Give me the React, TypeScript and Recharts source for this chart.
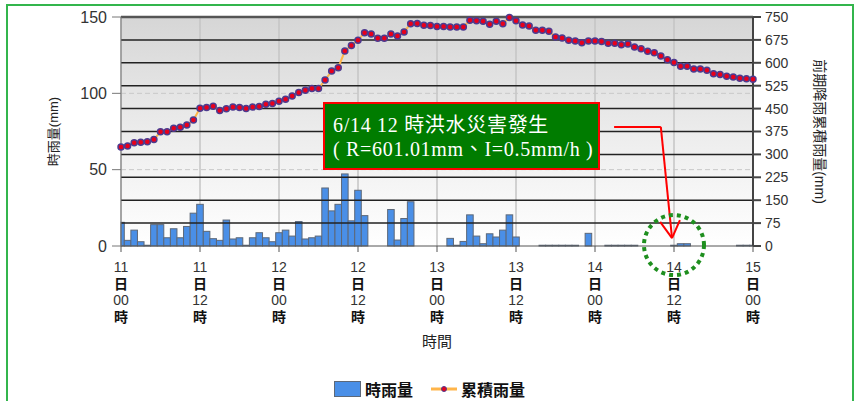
import {
  Bar,
  CartesianGrid,
  ComposedChart,
  Line,
  ReferenceDot,
  ReferenceLine,
  XAxis,
  YAxis,
} from 'recharts';

// hour index from 6/11 00:00 to 6/15 00:00
const hours = Array.from({ length: 97 }, (_, i) => i);

const hourlyRain = [
  15.5, 3.7, 10.4, 2.8, 0.5, 14, 14, 5.4, 11.3, 5.4, 12.8, 21.5, 27.3, 9.6, 4.8, 3.7,
  17, 4.6, 5.4, 0.5, 5.4, 8.7, 5.4, 2.8, 8.7, 10.4, 6.5, 16, 4.6, 5.4, 6.5, 38,
  23, 27.3, 47.2, 16.5, 36.5, 19.9, 0, 0, 0, 23.9, 3.9, 18, 29, 0, 0, 0,
  0, 0, 5, 0.5, 3, 20.4, 6.5, 1.5, 8, 5.9, 10.4, 20.4, 5.9, 0, 0, 0,
  0.5, 0.5, 0.5, 0.5, 0.5, 0.5, 0, 8.3, 0, 0, 0.5, 0.5, 0.5, 0.5, 0.5, 0,
  0, 0, 0, 0, 0.5, 1.5, 1.5, 0, 0, 0, 0, 0, 0, 0, 0.5, 0.5, 0.5,
];

const cumulativeRain = [
  324, 327.5, 338, 339.5, 341.6, 349, 374, 374, 386, 388.6, 396, 412.6, 451, 454, 457.4, 444,
  449.8, 455, 454, 450, 455, 457, 464, 467, 474, 481, 491, 503, 510, 516, 516, 543.6,
  573, 584, 638.6, 657, 673.6, 698.6, 694, 680, 680, 694, 687.8, 701, 728, 729, 723, 722,
  718.5, 718.5, 717.5, 717.5, 717.5, 739, 738, 736, 726, 736, 728, 748, 738, 724, 720.5, 707,
  707, 703, 684.5, 681, 673.5, 671, 666, 671, 671, 670, 664, 664, 659, 661.6, 651.7, 646,
  637.6, 633, 622, 610, 601.01, 588.5, 588.5, 579.7, 579.7, 576, 564, 562, 556, 553.5, 549, 548,
  546,
];

const xTicks = [0, 12, 24, 36, 48, 60, 72, 84, 96];
const tickDays = ['11', '11', '12', '12', '13', '13', '14', '14', '15'];
const tickHours = ['00', '12', '00', '12', '00', '12', '00', '12', '00'];
const leftTicks = [0, 50, 100, 150];
const rightTicks = [0, 75, 150, 225, 300, 375, 450, 525, 600, 675, 750];

const data = hours.map((t, i) => ({ t, rain: hourlyRain[i], total: cumulativeRain[i] }));

const FONT = '"Liberation Sans", "Noto Sans CJK TC", sans-serif';
const PLOT_LEFT = 121;
const PLOT_RIGHT = 753;

function HourTick({ x, y, payload }: any) {
  const idx = xTicks.indexOf(payload.value);
  return (
    <g transform={`translate(${x},${y})`} fontFamily={FONT} textAnchor="middle">
      <text y={18} fontSize={14} fill="#333">{tickDays[idx]}</text>
      <text y={35} fontSize={14} fontWeight="bold" fill="#111">日</text>
      <text y={51} fontSize={14} fill="#333">{tickHours[idx]}</text>
      <text y={68} fontSize={14} fontWeight="bold" fill="#111">時</text>
    </g>
  );
}

// bars at the first and last hour are cut at the plot edge
function ClippedBar({ x, y, width, height, fill, stroke }: any) {
  if (!height || height <= 0) return null;
  const x0 = Math.max(x, PLOT_LEFT);
  const x1 = Math.min(x + width, PLOT_RIGHT);
  if (x1 <= x0) return null;
  return (
    <rect x={x0} y={y} width={x1 - x0} height={height} fill={fill} stroke={stroke} strokeWidth={1} />
  );
}

export default function App() {
  return (
    <div
      style={{
        position: 'absolute',
        left: 0,
        top: 0,
        width: 859,
        height: 401,
        overflow: 'hidden',
        background: '#fff',
        fontFamily: FONT,
      }}
    >
      <div
        style={{
          position: 'absolute',
          left: 6,
          top: 4,
          width: 848,
          height: 440,
          boxSizing: 'border-box',
          border: '2px solid #33b54c',
        }}
      />
      <div style={{ position: 'absolute', left: 0, top: 0 }}>
        <ComposedChart
          width={859}
          height={401}
          data={data}
          margin={{ top: 17, right: 16, bottom: 0, left: 40 }}
        >
          <defs>
            <linearGradient id="plotBg" x1="0" y1="0" x2="0" y2="1">
              <stop offset="0%" stopColor="#d6d6d6" />
              <stop offset="55%" stopColor="#eeeeee" />
              <stop offset="100%" stopColor="#ffffff" />
            </linearGradient>
          </defs>
          <CartesianGrid
            yAxisId="right"
            horizontal={false}
            verticalValues={xTicks}
            fill="url(#plotBg)"
            fillOpacity={1}
            stroke="#c4c4c4"
            strokeWidth={1.5}
          />
          <XAxis
            dataKey="t"
            type="number"
            domain={[0, 96]}
            ticks={xTicks}
            interval={0}
            height={155}
            tickSize={6}
            tickMargin={2}
            stroke="#555"
            tick={<HourTick />}
            label={{
              value: '時間',
              position: 'insideTop',
              offset: 90,
              fontSize: 15,
              fill: '#222',
              fontFamily: FONT,
            }}
          />
          <YAxis
            yAxisId="left"
            domain={[0, 150]}
            ticks={leftTicks}
            width={81}
            tickSize={9}
            tickMargin={5}
            stroke="#777"
            tick={{ fontSize: 16, fill: '#333', fontFamily: FONT }}
            label={{
              value: '時雨量(mm)',
              angle: -90,
              position: 'insideLeft',
              offset: 13,
              fontSize: 13,
              fill: '#222',
              fontFamily: FONT,
              style: { textAnchor: 'middle' },
            }}
          />
          <YAxis
            yAxisId="right"
            orientation="right"
            domain={[0, 750]}
            ticks={rightTicks}
            interval={0}
            width={90}
            tickSize={8}
            tickMargin={4}
            stroke="#444"
            strokeWidth={2}
            tick={{ fontSize: 14, fill: '#333', fontFamily: FONT }}
            label={{
              value: '前期降雨累積雨量(mm)',
              angle: 90,
              position: 'insideRight',
              offset: 23,
              fontSize: 14,
              fill: '#222',
              fontFamily: FONT,
              style: { textAnchor: 'middle' },
            }}
          />
          {rightTicks.slice(1).map((v) => (
            <ReferenceLine
              key={v}
              yAxisId="right"
              y={v}
              stroke={v === 750 ? '#555' : '#222'}
              strokeWidth={v === 750 ? 2.5 : 1.5}
            />
          ))}
          <ReferenceLine yAxisId="left" y={50} stroke="#c8c8c8" strokeDasharray="5 3" />
          <ReferenceLine yAxisId="left" y={100} stroke="#c8c8c8" strokeDasharray="5 3" />
          <Bar
            yAxisId="left"
            dataKey="rain"
            name="時雨量"
            barSize={6.58}
            fill="#4a8fe7"
            stroke="#5d6878"
            shape={<ClippedBar />}
            isAnimationActive={false}
          />
          <Line
            yAxisId="right"
            dataKey="total"
            name="累積雨量"
            type="linear"
            stroke="#ffb54a"
            strokeWidth={2}
            dot={{ r: 3, fill: '#e8001c', stroke: '#4d3b8f', strokeWidth: 1.5 }}
            isAnimationActive={false}
          />
          <ReferenceLine
            yAxisId="right"
            segment={[{ x: 74.9, y: 390 }, { x: 82, y: 390 }]}
            stroke="#ff0000"
            strokeWidth={2}
          />
          <ReferenceLine
            yAxisId="right"
            segment={[{ x: 82, y: 390 }, { x: 83.7, y: 26 }]}
            stroke="#ff0000"
            strokeWidth={2}
          />
          <ReferenceLine
            yAxisId="right"
            segment={[{ x: 81.9, y: 79 }, { x: 83.7, y: 26 }]}
            stroke="#ff0000"
            strokeWidth={2}
          />
          <ReferenceLine
            yAxisId="right"
            segment={[{ x: 84.9, y: 85 }, { x: 83.7, y: 26 }]}
            stroke="#ff0000"
            strokeWidth={2}
          />
          <ReferenceDot
            yAxisId="right"
            x={84}
            y={3}
            r={30}
            fill="none"
            stroke="#1f8f1f"
            strokeWidth={4}
            strokeDasharray="4 4"
          />
        </ComposedChart>
      </div>

      <div
        style={{
          position: 'absolute',
          left: 323,
          top: 102,
          width: 277,
          height: 68,
          boxSizing: 'border-box',
          border: '2px solid #ff0000',
          background: '#007c00',
          color: '#fff',
          padding: '9px 0 0 8px',
          fontFamily: '"Liberation Serif", "Noto Sans CJK TC", serif',
          fontSize: 20,
          lineHeight: '24px',
          letterSpacing: 0.7,
          whiteSpace: 'nowrap',
        }}
      >
        <div>6/14 12 時洪水災害發生</div>
        <div>( R=601.01mm、I=0.5mm/h )</div>
      </div>

      <div
        style={{
          position: 'absolute',
          left: 0,
          top: 377,
          width: 859,
          display: 'flex',
          justifyContent: 'center',
          alignItems: 'center',
          fontSize: 16,
          fontWeight: 'bold',
          color: '#111',
        }}
      >
        <span
          style={{
            display: 'inline-block',
            width: 25,
            height: 14,
            background: '#4a8fe7',
            border: '1px solid #5d6878',
            marginRight: 4,
          }}
        />
        <span style={{ marginRight: 18 }}>時雨量</span>
        <svg width={26} height={14} style={{ marginRight: 4 }}>
          <line x1={0} y1={7} x2={26} y2={7} stroke="#ffb54a" strokeWidth={3} />
          <circle cx={13} cy={7} r={2.5} fill="#e8001c" stroke="#4d3b8f" strokeWidth={1} />
        </svg>
        <span>累積雨量</span>
      </div>
    </div>
  );
}
